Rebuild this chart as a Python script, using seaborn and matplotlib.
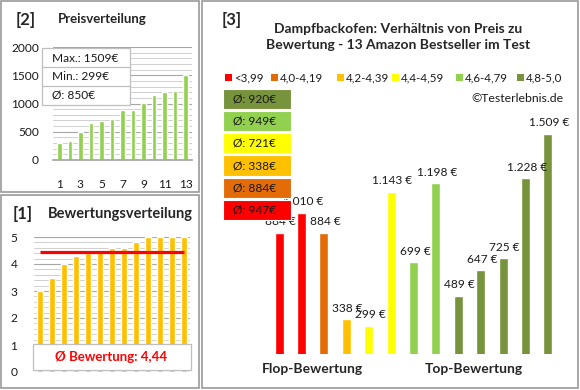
import numpy as np
import pandas as pd
import matplotlib
matplotlib.use('Agg')
import matplotlib.pyplot as plt
from matplotlib.patches import Rectangle
from matplotlib.ticker import MultipleLocator
import seaborn as sns

# Products in the order of the main chart [3]
prices = [884, 1010, 884, 338, 299, 1143, 699, 1198, 489, 647, 725, 1228, 1509]
ratings = [3.0, 3.5, 4.0, 4.3, 4.4, 4.5, 4.6, 4.6, 4.8, 5.0, 5.0, 5.0, 5.0]

# Rating classes
group_labels = ['<3,99', '4,0-4,19', '4,2-4,39', '4,4-4,59', '4,6-4,79', '4,8-5,0']
group_colors = ['#FF0000', '#E36C09', '#FFC000', '#FFFF00', '#92D050', '#77933C']
group_edges = [4.0, 4.2, 4.4, 4.6, 4.8]

title = 'Dampfbackofen: Verhältnis von Preis zu\nBewertung - 13 Amazon Bestseller im Test'

W, H = 580, 390
FONT = 'Lato'
GRID_MAJOR = '#A6A6A6'
GRID_MINOR = '#D0D0D0'
BORDER = '#9A9A9A'
TXT = '#1a1a1a'


def box(x0, y0, x1, y1):
    # pixel box (top-left origin) -> figure rect
    return [x0 / W, 1 - y1 / H, (x1 - x0) / W, (y1 - y0) / H]


def euro(v):
    return f"{v:,}".replace(',', '.') + ' €'


sns.set_theme(style='white')
plt.rcParams['font.family'] = [FONT, 'DejaVu Sans']

fig = plt.figure(figsize=(W / 100, H / 100), dpi=100)

groups = np.digitize(ratings, group_edges)
bar_colors = [group_colors[g] for g in groups]

# ---------- [3] main chart ----------
ax3 = fig.add_axes(box(268, 100, 559, 354))
df = pd.DataFrame({'pos': [str(i) for i in range(len(prices))], 'price': prices})
sns.barplot(data=df, x='pos', y='price', hue='pos', palette=bar_colors,
            legend=False, width=0.4, saturation=1, ax=ax3)
# value axis of the original does not start at zero
ax3.set_ylim(120, 1723)
ax3.set_xlim(-0.5, len(prices) - 0.5)
for i, p in enumerate(prices):
    ax3.annotate(euro(p), (i, p), xytext=(1, 4), textcoords='offset points',
                 ha='center', va='bottom', fontsize=8.6, color=TXT)
ax3.axis('off')

# ---------- [2] price distribution ----------
ax2 = fig.add_axes(box(53, 47, 192, 160))
sorted_prices = sorted(prices)
df2 = pd.DataFrame({'n': [str(i + 1) for i in range(len(sorted_prices))], 'price': sorted_prices})
sns.barplot(data=df2, x='n', y='price', color='#92D050', saturation=1, width=0.43, ax=ax2)
ax2.set_ylim(0, 2000)
ax2.set_xlim(-0.6, len(sorted_prices) - 0.4)
ax2.yaxis.set_major_locator(MultipleLocator(500))
ax2.yaxis.set_minor_locator(MultipleLocator(100))
ax2.grid(axis='y', which='major', color=GRID_MAJOR, linewidth=0.8)
ax2.grid(axis='y', which='minor', color=GRID_MINOR, linewidth=0.7)
ax2.set_axisbelow(True)
ax2.set_xticks(range(0, len(sorted_prices), 2))
ax2.set_xticklabels([str(i + 1) for i in range(0, len(sorted_prices), 2)])
ax2.set_xlabel('')
ax2.set_ylabel('')
for s in ['top', 'right', 'left']:
    ax2.spines[s].set_visible(False)
ax2.spines['bottom'].set_color(GRID_MAJOR)
ax2.tick_params(axis='x', length=0, pad=14, labelsize=8.6, colors=TXT)
ax2.tick_params(axis='y', length=0, pad=10, labelsize=8.6, colors=TXT)

# ---------- [1] rating distribution ----------
ax1 = fig.add_axes(box(34, 237, 190, 372))
sorted_ratings = sorted(ratings)
df1 = pd.DataFrame({'n': [str(i + 1) for i in range(len(sorted_ratings))], 'rating': sorted_ratings})
sns.barplot(data=df1, x='n', y='rating', color='#FFC000', saturation=1, width=0.42, ax=ax1)
mean_rating = np.mean(ratings)
ax1.hlines(mean_rating, 0, len(sorted_ratings) - 1, color='#FF0000', linewidth=2.3, zorder=5)
ax1.set_ylim(0, 5)
ax1.set_xlim(-0.5, len(sorted_ratings) - 0.5)
ax1.yaxis.set_major_locator(MultipleLocator(1))
ax1.yaxis.set_minor_locator(MultipleLocator(0.2))
ax1.grid(axis='y', which='major', color=GRID_MAJOR, linewidth=0.8)
ax1.grid(axis='y', which='minor', color=GRID_MINOR, linewidth=0.7)
ax1.set_axisbelow(True)
ax1.set_xticks([])
ax1.set_xlabel('')
ax1.set_ylabel('')
for s in ['top', 'right', 'left', 'bottom']:
    ax1.spines[s].set_visible(False)
ax1.tick_params(axis='y', length=0, pad=12, labelsize=8.6, colors=TXT)

# ---------- overlay: frames, titles, legend, info boxes ----------
ov = fig.add_axes([0, 0, 1, 1], zorder=10)
ov.set_xlim(0, W)
ov.set_ylim(H, 0)
ov.axis('off')


def rect(x0, y0, x1, y1, fc='none', ec=BORDER, lw=1.0):
    ov.add_patch(Rectangle((x0, y0), x1 - x0, y1 - y0, facecolor=fc, edgecolor=ec, linewidth=lw))


# panel frames
rect(1, 1, 199, 192, lw=1.2)
rect(1, 195, 199, 388, lw=1.2)
rect(202, 1, 578, 388, lw=1.2)

# panel headers
ov.text(16, 20, '[2]', fontsize=12, fontweight='bold', va='center')
ov.text(58, 19, 'Preisverteilung', fontsize=9.5, fontweight='bold', va='center')
ov.text(13, 214, '[1]', fontsize=12, fontweight='bold', va='center')
ov.text(48, 214, 'Bewertungsverteilung', fontsize=10.5, fontweight='bold', va='center')
ov.text(222, 20, '[3]', fontsize=12, fontweight='bold', va='center')
ov.text(398, 37, title, fontsize=10, fontweight='bold', ha='center', va='center',
        linespacing=1.4)

# price stats box
rect(42, 48, 130, 105, fc='white', ec='#BFBFBF', lw=0.9)
ov.plot([42, 130], [67, 67], color='#BFBFBF', linewidth=0.9)
ov.plot([42, 130], [86, 86], color='#BFBFBF', linewidth=0.9)
stats = [f'Max.: {max(prices)}€', f'Min.: {min(prices)}€', f'Ø: {round(np.mean(prices))}€']
for k, s in enumerate(stats):
    ov.text(52, 58 + k * 18.5, s, fontsize=8.6, va='center', color=TXT)

# rating mean box
rect(33, 344, 191, 370, fc='white', ec='#BFBFBF', lw=0.9)
ov.text(111, 357, 'Ø Bewertung: ' + f'{mean_rating:.2f}'.replace('.', ','),
        fontsize=9.5, fontweight='bold', color='#FF0000', ha='center', va='center')

# legend of rating classes
leg_x = [225, 271, 337, 392, 456, 517]
for x, lab, c in zip(leg_x, group_labels, group_colors):
    rect(x, 74, x + 7, 81, fc=c, ec='none')
    ov.text(x + 9, 77.5, lab, fontsize=8.3, va='center', color=TXT)

ov.text(563, 98, '©Testerlebnis.de', fontsize=8.8, ha='right', va='center', color=TXT)

# average price per rating class (best class on top)
box_rows = [(89, 109), (111, 131), (133, 153), (155, 176), (178, 198), (200, 220)]
for (y0, y1), g in zip(box_rows, range(len(group_labels) - 1, -1, -1)):
    members = [p for p, gg in zip(prices, groups) if gg == g]
    rect(223, y0, 291, y1, fc=group_colors[g], ec='white', lw=0.8)
    ov.text(233, (y0 + y1) / 2, f'Ø: {round(np.mean(members) + 1e-9)}€',
            fontsize=8.6, va='center', color=TXT)

ov.text(312, 369, 'Flop-Bewertung', fontsize=10, fontweight='bold', ha='center', va='center')
ov.text(474, 369, 'Top-Bewertung', fontsize=10, fontweight='bold', ha='center', va='center')

fig.savefig('out.png', dpi=100)
